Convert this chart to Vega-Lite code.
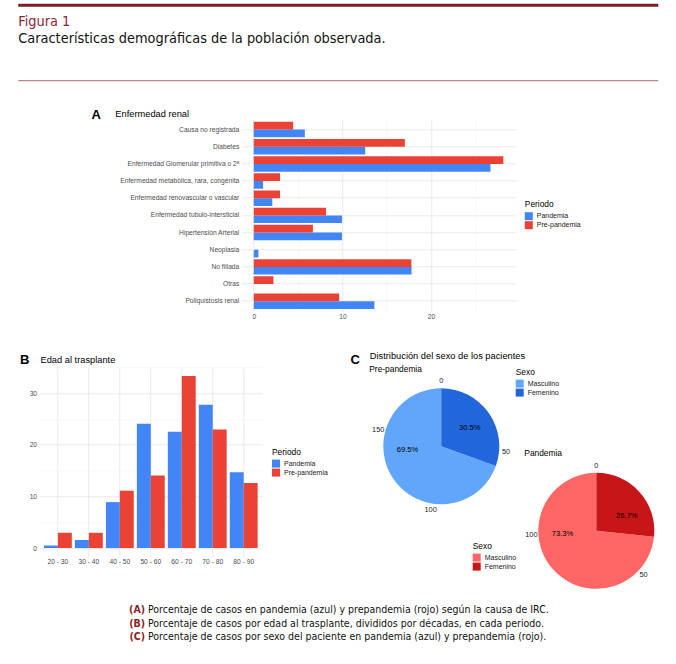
{
  "$schema": "https://vega.github.io/schema/vega-lite/v6.json",
  "padding": {"left": 16.3, "top": 3.3, "right": 0, "bottom": 0},
  "background": "white",
  "spacing": 0,
  "resolve": {"scale": {"color": "independent"}},
  "config": {
    "font": "Liberation Sans",
    "view": {"stroke": null},
    "concat": {"spacing": 0},
    "legend": {
      "orient": "none", "titleFontSize": 8.4, "titleFontWeight": "normal", "titleColor": "black",
      "titleFont": "Liberation Sans", "labelFont": "Liberation Sans",
      "labelFontSize": 7, "labelColor": "#1a1a1a", "symbolType": "square", "symbolSize": 64,
      "symbolStrokeWidth": 0, "rowPadding": 1, "titlePadding": 3.4, "labelOffset": 4, "padding": 0
    }
  },
  "datasets": {
    "cabecera": [{"figura": "Figura 1", "subtitulo": "Características demográficas de la población observada."}],
    "renal": [
      {"causa": "Causa no registrada", "periodo": "Pandemia", "valor": 5.76},
      {"causa": "Causa no registrada", "periodo": "Pre-pandemia", "valor": 4.44},
      {"causa": "Diabetes", "periodo": "Pandemia", "valor": 12.57},
      {"causa": "Diabetes", "periodo": "Pre-pandemia", "valor": 17.04},
      {"causa": "Enfermedad Glomerular primitiva o 2ª", "periodo": "Pandemia", "valor": 26.7},
      {"causa": "Enfermedad Glomerular primitiva o 2ª", "periodo": "Pre-pandemia", "valor": 28.15},
      {"causa": "Enfermedad metabólica, rara, congénita", "periodo": "Pandemia", "valor": 1.05},
      {"causa": "Enfermedad metabólica, rara, congénita", "periodo": "Pre-pandemia", "valor": 2.96},
      {"causa": "Enfermedad renovascular o vascular", "periodo": "Pandemia", "valor": 2.09},
      {"causa": "Enfermedad renovascular o vascular", "periodo": "Pre-pandemia", "valor": 2.96},
      {"causa": "Enfermedad tubulo-intersticial", "periodo": "Pandemia", "valor": 9.95},
      {"causa": "Enfermedad tubulo-intersticial", "periodo": "Pre-pandemia", "valor": 8.15},
      {"causa": "Hipertensión Arterial", "periodo": "Pandemia", "valor": 9.95},
      {"causa": "Hipertensión Arterial", "periodo": "Pre-pandemia", "valor": 6.67},
      {"causa": "Neoplasia", "periodo": "Pandemia", "valor": 0.52},
      {"causa": "Neoplasia", "periodo": "Pre-pandemia", "valor": 0},
      {"causa": "No filiada", "periodo": "Pandemia", "valor": 17.8},
      {"causa": "No filiada", "periodo": "Pre-pandemia", "valor": 17.78},
      {"causa": "Otras", "periodo": "Pandemia", "valor": 0},
      {"causa": "Otras", "periodo": "Pre-pandemia", "valor": 2.22},
      {"causa": "Poliquistosis renal", "periodo": "Pandemia", "valor": 13.61},
      {"causa": "Poliquistosis renal", "periodo": "Pre-pandemia", "valor": 9.63}
    ],
    "edad": [
      {"edad": "20 - 30", "periodo": "Pandemia", "valor": 0.52},
      {"edad": "20 - 30", "periodo": "Pre-pandemia", "valor": 2.96},
      {"edad": "30 - 40", "periodo": "Pandemia", "valor": 1.57},
      {"edad": "30 - 40", "periodo": "Pre-pandemia", "valor": 2.96},
      {"edad": "40 - 50", "periodo": "Pandemia", "valor": 8.9},
      {"edad": "40 - 50", "periodo": "Pre-pandemia", "valor": 11.11},
      {"edad": "50 - 60", "periodo": "Pandemia", "valor": 24.08},
      {"edad": "50 - 60", "periodo": "Pre-pandemia", "valor": 14.07},
      {"edad": "60 - 70", "periodo": "Pandemia", "valor": 22.51},
      {"edad": "60 - 70", "periodo": "Pre-pandemia", "valor": 33.33},
      {"edad": "70 - 80", "periodo": "Pandemia", "valor": 27.75},
      {"edad": "70 - 80", "periodo": "Pre-pandemia", "valor": 22.96},
      {"edad": "80 - 90", "periodo": "Pandemia", "valor": 14.66},
      {"edad": "80 - 90", "periodo": "Pre-pandemia", "valor": 12.59}
    ],
    "sexo": [
      {"periodo": "Pre-pandemia", "sexo": "Masculino", "n": 132, "pct": "69.5%", "pos": 139},
      {"periodo": "Pre-pandemia", "sexo": "Femenino", "n": 58, "pct": "30.5%", "pos": 30},
      {"periodo": "Pandemia", "sexo": "Masculino", "n": 99, "pct": "73.3%", "pos": 99},
      {"periodo": "Pandemia", "sexo": "Femenino", "n": 36, "pct": "26.7%", "pos": 24}
    ],
    "ticks": [
      {"periodo": "Pre-pandemia", "tick": 0},
      {"periodo": "Pre-pandemia", "tick": 50},
      {"periodo": "Pre-pandemia", "tick": 100},
      {"periodo": "Pre-pandemia", "tick": 150},
      {"periodo": "Pandemia", "tick": 0},
      {"periodo": "Pandemia", "tick": 50},
      {"periodo": "Pandemia", "tick": 100}
    ],
    "periodos": [{"periodo": "Pre-pandemia"}, {"periodo": "Pandemia"}],
    "leyenda": [
      {"linea": "A", "etiqueta": "(A)", "texto": "Porcentaje de casos en pandemia (azul) y prepandemia (rojo) según la causa de IRC."},
      {"linea": "B", "etiqueta": "(B)", "texto": "Porcentaje de casos por edad al trasplante, divididos por décadas, en cada periodo."},
      {"linea": "C", "etiqueta": "(C)", "texto": "Porcentaje de casos por sexo del paciente en pandemia (azul) y prepandemia (rojo)."}
    ]
  },
  "vconcat": [
    {
      "width": 640, "height": 75.4,
      "data": {"name": "cabecera"},
      "layer": [
        {"mark": {"type": "rule", "color": "#7b1c26", "strokeWidth": 3},
         "encoding": {
           "x": {"datum": 0, "type": "quantitative", "scale": {"domain": [0, 1], "nice": false, "zero": false}, "axis": null},
           "x2": {"datum": 1},
           "y": {"datum": 1, "type": "quantitative", "scale": {"domain": [0, 1], "nice": false, "zero": false}, "axis": null}}},
        {"mark": {"type": "rule", "color": "#b0686f", "strokeWidth": 1},
         "encoding": {"x": {"datum": 0, "type": "quantitative"}, "x2": {"datum": 1}, "y": {"datum": 0, "type": "quantitative"}}},
        {"mark": {"type": "text", "align": "left", "baseline": "alphabetic", "font": "DejaVu Sans Condensed, Liberation Sans", "fontSize": 14.4, "color": "#8c2632"},
         "encoding": {"x": {"datum": 0, "type": "quantitative"}, "y": {"datum": 0.7255, "type": "quantitative"}, "text": {"field": "figura"}}},
        {"mark": {"type": "text", "align": "left", "baseline": "alphabetic", "font": "DejaVu Sans Condensed, Liberation Sans", "fontSize": 14.4, "color": "#111111"},
         "encoding": {"x": {"datum": 0, "type": "quantitative"}, "y": {"datum": 0.5, "type": "quantitative"}, "text": {"field": "subtitulo"}}}
      ]
    },
    {"width": 1, "height": 26, "data": {"values": []}, "mark": "rule", "encoding": {}},
    {
      "spacing": 0,
      "resolve": {"scale": {"color": "independent"}},
      "hconcat": [
        {"width": 72, "height": 1, "data": {"values": []}, "mark": "rule", "encoding": {}},
        {
          "width": 274.5, "height": 192.2,
          "data": {"name": "renal"},
          "mark": {"type": "bar"},
          "encoding": {
            "y": {"field": "causa", "type": "nominal",
              "sort": ["Causa no registrada", "Diabetes", "Enfermedad Glomerular primitiva o 2ª", "Enfermedad metabólica, rara, congénita", "Enfermedad renovascular o vascular", "Enfermedad tubulo-intersticial", "Hipertensión Arterial", "Neoplasia", "No filiada", "Otras", "Poliquistosis renal"],
              "scale": {"paddingInner": 0.1, "paddingOuter": 0.15},
              "axis": {"title": "Enfermedad renal", "titleAngle": 0, "titleAlign": "left", "titleBaseline": "alphabetic", "titleX": -126.5, "titleY": -2.8,
                "titleFontSize": 9.3, "titleFontWeight": "normal", "titleColor": "black",
                "labelFontSize": 6.7, "labelColor": "#4d4d4d", "labelPadding": 2.5, "ticks": false, "domain": false,
                "grid": true, "gridColor": "#e9e9e9", "gridWidth": 0.9, "bandPosition": 0.5}},
            "yOffset": {"field": "periodo", "type": "nominal", "sort": ["Pre-pandemia", "Pandemia"], "scale": {"paddingInner": 0, "paddingOuter": 0}},
            "x": {"field": "valor", "type": "quantitative",
              "scale": {"domain": [-1.4075, 29.5575], "nice": false, "zero": false},
              "axis": {"values": [0, 5, 10, 15, 20, 25], "labelExpr": "datum.value % 10 === 0 ? datum.label : ''",
                "gridColor": {"condition": {"test": "datum.value % 10 === 0", "value": "#e9e9e9"}, "value": "#f3f3f3"},
                "gridWidth": {"condition": {"test": "datum.value % 10 === 0", "value": 0.9}, "value": 0.6},
                "ticks": false, "domain": false, "labelFontSize": 6.7, "labelColor": "#4d4d4d", "labelPadding": 2.4,
                "title": "A", "titleX": -150.2, "titleY": -193.3, "titleFontSize": 13, "titleFontWeight": "bold", "titleColor": "black",
                "titleAlign": "left", "titleBaseline": "alphabetic"}},
            "x2": {"datum": 0},
            "color": {"field": "periodo", "type": "nominal",
              "scale": {"domain": ["Pandemia", "Pre-pandemia"], "range": ["#4285f4", "#ea4335"]},
              "legend": {"title": "Periodo", "legendX": 283.5, "legendY": 81.1}}
          }
        }
      ]
    },
    {"width": 1, "height": 30, "data": {"values": []}, "mark": "rule", "encoding": {}},
    {
      "spacing": 0,
      "resolve": {"scale": {"color": "independent"}},
      "hconcat": [
        {"width": 1, "height": 1, "data": {"values": []}, "mark": "rule", "encoding": {}},
        {
          "width": 223, "height": 189.4,
          "data": {"name": "edad"},
          "mark": {"type": "bar"},
          "encoding": {
            "x": {"field": "edad", "type": "nominal", "sort": ["20 - 30", "30 - 40", "40 - 50", "50 - 60", "60 - 70", "70 - 80", "80 - 90"],
              "scale": {"paddingInner": 0.1, "paddingOuter": 0.15},
              "axis": {"labelAngle": 0, "grid": true, "gridColor": "#e9e9e9", "gridWidth": 0.9, "bandPosition": 0.5,
                "ticks": false, "domain": false, "labelFontSize": 6.7, "labelColor": "#4d4d4d", "labelPadding": 2,
                "title": "B", "titleX": -19.7, "titleY": -192.8, "titleFontSize": 13, "titleFontWeight": "bold", "titleColor": "black",
                "titleAlign": "left", "titleBaseline": "alphabetic"}},
            "xOffset": {"field": "periodo", "type": "nominal", "sort": ["Pandemia", "Pre-pandemia"], "scale": {"paddingInner": 0, "paddingOuter": 0}},
            "y": {"field": "valor", "type": "quantitative",
              "scale": {"domain": [-1.667, 35.0], "nice": false, "zero": false},
              "axis": {"values": [0, 5, 10, 15, 20, 25, 30, 35], "labelExpr": "datum.value % 10 === 0 ? datum.label : ''",
                "gridColor": {"condition": {"test": "datum.value % 10 === 0", "value": "#e9e9e9"}, "value": "#f3f3f3"},
                "gridWidth": {"condition": {"test": "datum.value % 10 === 0", "value": 0.9}, "value": 0.6},
                "ticks": false, "domain": false, "labelFontSize": 6.7, "labelColor": "#4d4d4d", "labelPadding": 2.7,
                "title": "Edad al trasplante", "titleAngle": 0, "titleAlign": "left", "titleBaseline": "alphabetic",
                "titleX": 0.7, "titleY": -5, "titleFontSize": 9.3, "titleFontWeight": "normal", "titleColor": "black"}},
            "y2": {"datum": 0},
            "color": {"field": "periodo", "type": "nominal",
              "scale": {"domain": ["Pandemia", "Pre-pandemia"], "range": ["#4285f4", "#ea4335"]},
              "legend": {"title": "Periodo", "legendX": 232.7, "legendY": 80.5}}
          }
        },
        {"width": 21, "height": 1, "data": {"values": []}, "mark": "rule", "encoding": {}},
        {
          "width": 271, "height": 221.5,
          "resolve": {"scale": {"theta": "independent", "color": "independent"}},
          "layer": [
            {
              "data": {"name": "sexo"},
              "transform": [{"filter": "datum.periodo === 'Pre-pandemia'"}],
              "mark": {"type": "arc", "radius": 58},
              "encoding": {
                "x": {"field": "periodo", "type": "nominal", "scale": {"type": "point", "domain": ["Pre-pandemia", "Pandemia"], "padding": 0.374},
                  "axis": {"title": "C", "labels": false, "ticks": false, "domain": false, "grid": false, "titleX": -33.3, "titleY": -224.8,
                    "titleFontSize": 13, "titleFontWeight": "bold", "titleColor": "black", "titleAlign": "left", "titleBaseline": "alphabetic"}},
                "y": {"field": "periodo", "type": "nominal", "scale": {"type": "point", "domain": ["Pre-pandemia", "Pandemia"], "padding": 0.8107, "align": 0.5766},
                  "axis": {"title": "Distribución del sexo de los pacientes", "labels": false, "ticks": false, "domain": false, "grid": false,
                    "titleAngle": 0, "titleX": -14, "titleY": -9, "titleFontSize": 9.3, "titleFontWeight": "normal", "titleColor": "black",
                    "titleAlign": "left", "titleBaseline": "alphabetic"}},
                "theta": {"field": "n", "type": "quantitative", "stack": true, "scale": {"domain": [0, 190], "nice": false}},
                "order": {"field": "sexo", "sort": "ascending"},
                "color": {"field": "sexo", "type": "nominal", "scale": {"domain": ["Masculino", "Femenino"], "range": ["#62a6fb", "#2266dc"]},
                  "legend": {"title": "Sexo", "legendX": 132.4, "legendY": 0.5}}
              }
            },
            {
              "data": {"name": "sexo"},
              "transform": [{"filter": "datum.periodo === 'Pandemia'"}],
              "mark": {"type": "arc", "radius": 58},
              "encoding": {
                "x": {"field": "periodo", "type": "nominal", "scale": {"type": "point", "domain": ["Pre-pandemia", "Pandemia"], "padding": 0.374}},
                "y": {"field": "periodo", "type": "nominal", "scale": {"type": "point", "domain": ["Pre-pandemia", "Pandemia"], "padding": 0.8107, "align": 0.5766}},
                "theta": {"field": "n", "type": "quantitative", "stack": true, "scale": {"domain": [0, 135], "nice": false}},
                "order": {"field": "sexo", "sort": "ascending"},
                "color": {"field": "sexo", "type": "nominal", "scale": {"domain": ["Masculino", "Femenino"], "range": ["#ff6666", "#c81517"]},
                  "legend": {"title": "Sexo", "legendX": 89.4, "legendY": 174.5}}
              }
            },
            {
              "data": {"name": "ticks"},
              "transform": [{"filter": "datum.periodo === 'Pre-pandemia'"}],
              "mark": {"type": "text", "radius": 65, "fontSize": 7.4, "color": "#222222"},
              "encoding": {
                "x": {"field": "periodo", "type": "nominal", "scale": {"type": "point", "domain": ["Pre-pandemia", "Pandemia"], "padding": 0.374}},
                "y": {"field": "periodo", "type": "nominal", "scale": {"type": "point", "domain": ["Pre-pandemia", "Pandemia"], "padding": 0.8107, "align": 0.5766}},
                "theta": {"field": "tick", "type": "quantitative", "stack": null, "scale": {"domain": [0, 190], "nice": false}},
                "text": {"field": "tick", "type": "quantitative"}
              }
            },
            {
              "data": {"name": "ticks"},
              "transform": [{"filter": "datum.periodo === 'Pandemia'"}],
              "mark": {"type": "text", "radius": 65, "fontSize": 7.4, "color": "#222222"},
              "encoding": {
                "x": {"field": "periodo", "type": "nominal", "scale": {"type": "point", "domain": ["Pre-pandemia", "Pandemia"], "padding": 0.374}},
                "y": {"field": "periodo", "type": "nominal", "scale": {"type": "point", "domain": ["Pre-pandemia", "Pandemia"], "padding": 0.8107, "align": 0.5766}},
                "theta": {"field": "tick", "type": "quantitative", "stack": null, "scale": {"domain": [0, 135], "nice": false}},
                "text": {"field": "tick", "type": "quantitative"}
              }
            },
            {
              "data": {"name": "sexo"},
              "transform": [{"filter": "datum.periodo === 'Pre-pandemia'"}],
              "mark": {"type": "text", "radius": 34, "fontSize": 7.6, "color": "black"},
              "encoding": {
                "x": {"field": "periodo", "type": "nominal", "scale": {"type": "point", "domain": ["Pre-pandemia", "Pandemia"], "padding": 0.374}},
                "y": {"field": "periodo", "type": "nominal", "scale": {"type": "point", "domain": ["Pre-pandemia", "Pandemia"], "padding": 0.8107, "align": 0.5766}},
                "theta": {"field": "pos", "type": "quantitative", "stack": null, "scale": {"domain": [0, 190], "nice": false}},
                "text": {"field": "pct"}
              }
            },
            {
              "data": {"name": "sexo"},
              "transform": [{"filter": "datum.periodo === 'Pandemia'"}],
              "mark": {"type": "text", "radius": 34, "fontSize": 7.6, "color": "black"},
              "encoding": {
                "x": {"field": "periodo", "type": "nominal", "scale": {"type": "point", "domain": ["Pre-pandemia", "Pandemia"], "padding": 0.374}},
                "y": {"field": "periodo", "type": "nominal", "scale": {"type": "point", "domain": ["Pre-pandemia", "Pandemia"], "padding": 0.8107, "align": 0.5766}},
                "theta": {"field": "pos", "type": "quantitative", "stack": null, "scale": {"domain": [0, 135], "nice": false}},
                "text": {"field": "pct"}
              }
            },
            {
              "data": {"name": "periodos"},
              "mark": {"type": "text", "align": "left", "baseline": "alphabetic", "dx": -72, "dy": -74.5, "fontSize": 8.4, "color": "black"},
              "encoding": {
                "x": {"field": "periodo", "type": "nominal", "scale": {"type": "point", "domain": ["Pre-pandemia", "Pandemia"], "padding": 0.374}},
                "y": {"field": "periodo", "type": "nominal", "scale": {"type": "point", "domain": ["Pre-pandemia", "Pandemia"], "padding": 0.8107, "align": 0.5766}},
                "text": {"field": "periodo"}
              }
            }
          ]
        }
      ]
    },
    {"width": 1, "height": 14, "data": {"values": []}, "mark": "rule", "encoding": {}},
    {
      "width": 640, "height": 41,
      "data": {"name": "leyenda"},
      "layer": [
        {"mark": {"type": "text", "align": "right", "baseline": "middle", "dx": -1.5, "font": "DejaVu Sans Condensed, Liberation Sans", "fontSize": 10.5, "fontWeight": "bold", "color": "#8b1e2a"},
         "encoding": {
           "x": {"datum": 0.2003, "type": "quantitative", "scale": {"domain": [0, 1], "nice": false, "zero": false}, "axis": null},
           "y": {"field": "linea", "type": "nominal", "scale": {"type": "point", "padding": 0.5}, "axis": null},
           "text": {"field": "etiqueta"}}},
        {"mark": {"type": "text", "align": "left", "baseline": "middle", "dx": 1.5, "font": "DejaVu Sans Condensed, Liberation Sans", "fontSize": 10.5, "color": "#111111"},
         "encoding": {
           "x": {"datum": 0.2003, "type": "quantitative"},
           "y": {"field": "linea", "type": "nominal", "scale": {"type": "point", "padding": 0.5}, "axis": null},
           "text": {"field": "texto"}}}
      ]
    }
  ]
}
